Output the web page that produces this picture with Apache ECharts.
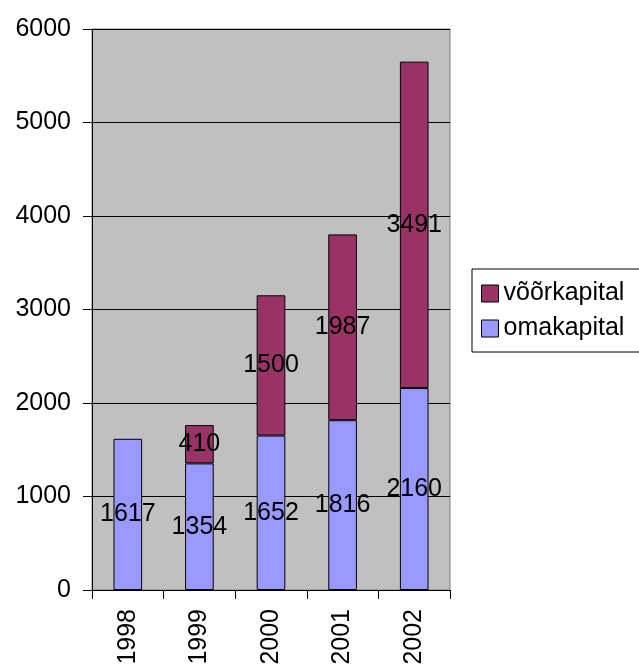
<!DOCTYPE html>
<html>
<head>
<meta charset="utf-8">
<script src="https://cdn.jsdelivr.net/npm/echarts@6/dist/echarts.min.js"></script>
<style>
  html, body { margin: 0; padding: 0; background: #fff; }
  #chart { width: 639px; height: 668px; }
</style>
</head>
<body>
<div id="chart"></div>
<script>
// andmed
const years = ['1998', '1999', '2000', '2001', '2002']
const omakapital = [1617, 1354, 1652, 1816, 2160]
const voorkapital = [null, 410, 1500, 1987, 3491]
const yTicks = [0, 1000, 2000, 3000, 4000, 5000, 6000]

const font = 'Liberation Sans, Arial, sans-serif'

const chart = echarts.init(document.getElementById('chart'))

const labelStyle = {
  show: true,
  position: 'inside',
  color: '#000',
  fontSize: 25,
  fontFamily: font
}

chart.setOption({
  animation: false,
  grid: {
    left: 92, top: 29, right: 189, bottom: 78,
    show: true,
    backgroundColor: '#C0C0C0',
    borderColor: '#808080',
    borderWidth: 1
  },
  legend: {
    orient: 'vertical',
    left: 472,
    top: 269,
    padding: [12, 60, 11, 9],
    itemGap: 10,
    itemWidth: 17,
    itemHeight: 17,
    icon: 'rect',
    borderColor: '#000',
    borderWidth: 1,
    backgroundColor: '#fff',
    itemStyle: { borderColor: '#000', borderWidth: 1 },
    textStyle: { fontSize: 25, fontFamily: font, color: '#000' },
    data: ['võõrkapital', 'omakapital']
  },
  xAxis: {
    type: 'category',
    data: years,
    axisLine: { lineStyle: { color: '#000' } },
    axisTick: { show: true, length: 9, lineStyle: { color: '#000' } },
    axisLabel: {
      rotate: 90,
      margin: 19,
      fontSize: 25,
      fontFamily: font,
      color: '#000'
    }
  },
  yAxis: {
    type: 'value',
    min: yTicks[0],
    max: yTicks[yTicks.length - 1],
    interval: 1000,
    axisLine: { show: true, lineStyle: { color: '#000' } },
    axisTick: { show: true, length: 9, lineStyle: { color: '#000' } },
    splitLine: { lineStyle: { color: '#000', width: 1 } },
    axisLabel: {
      margin: 21,
      fontSize: 25,
      fontFamily: font,
      color: '#000',
      formatter: v => String(v)
    }
  },
  series: [
    {
      name: 'omakapital',
      type: 'bar',
      stack: 'kokku',
      barWidth: '40%',
      data: omakapital,
      itemStyle: { color: '#9999FF', borderColor: '#000', borderWidth: 1 },
      label: labelStyle
    },
    {
      name: 'võõrkapital',
      type: 'bar',
      stack: 'kokku',
      barWidth: '40%',
      data: voorkapital,
      itemStyle: { color: '#993366', borderColor: '#000', borderWidth: 1 },
      label: labelStyle
    }
  ]
})
</script>
</body>
</html>
